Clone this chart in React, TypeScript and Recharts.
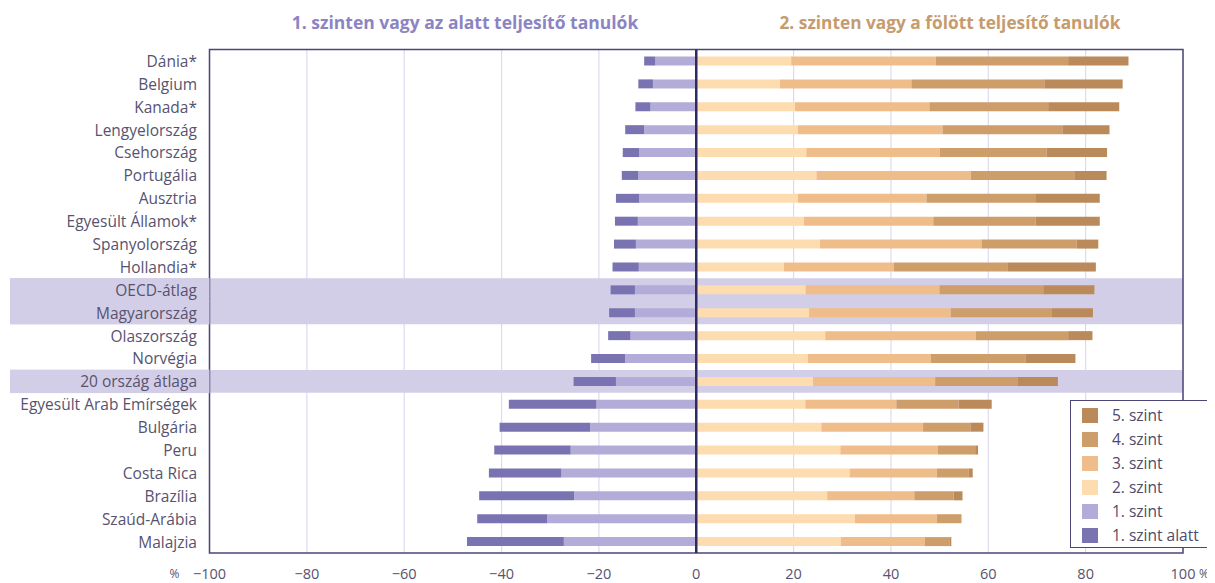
import React from 'react';
import {
  ComposedChart,
  Bar,
  XAxis,
  YAxis,
  CartesianGrid,
  ReferenceArea,
  ReferenceLine,
} from 'recharts';

const countries = [
  'Dánia*', 'Belgium', 'Kanada*', 'Lengyelország', 'Csehország', 'Portugália', 'Ausztria',
  'Egyesült Államok*', 'Spanyolország', 'Hollandia*', 'OECD-átlag', 'Magyarország',
  'Olaszország', 'Norvégia', '20 ország átlaga', 'Egyesült Arab Emírségek', 'Bulgária',
  'Peru', 'Costa Rica', 'Brazília', 'Szaúd-Arábia', 'Malajzia',
];

// negative side (percent of students, drawn to the left)
const level1 = [-8.4, -8.9, -9.4, -10.7, -11.7, -11.9, -11.7, -12.0, -12.4, -11.8, -12.6, -12.6, -13.5, -14.6, -16.5, -20.5, -21.8, -25.8, -27.7, -25.1, -30.6, -27.2];
const belowLevel1 = [-2.3, -3.0, -3.1, -3.9, -3.4, -3.4, -4.8, -4.7, -4.5, -5.4, -5.0, -5.3, -4.6, -7.0, -8.7, -18.0, -18.6, -15.7, -14.9, -19.5, -14.4, -19.9];
// positive side
const level2 = [19.5, 17.2, 20.3, 20.9, 22.6, 24.7, 20.9, 22.1, 25.4, 18.0, 22.5, 23.2, 26.5, 22.9, 24.0, 22.4, 25.7, 29.6, 31.5, 26.9, 32.6, 29.7];
const level3 = [29.7, 27.0, 27.6, 29.7, 27.4, 31.7, 26.4, 26.6, 33.2, 22.6, 27.5, 29.1, 30.9, 25.3, 25.1, 18.7, 20.9, 20.0, 17.9, 17.9, 16.8, 17.3];
const level4 = [27.2, 27.3, 24.4, 24.6, 22.0, 21.4, 22.5, 21.0, 19.5, 23.3, 21.3, 20.7, 19.0, 19.4, 17.0, 12.8, 9.7, 7.7, 6.6, 8.1, 5.1, 5.1];
const level5 = [12.4, 16.1, 14.6, 9.7, 12.4, 6.5, 13.1, 13.2, 4.5, 18.2, 10.5, 8.5, 5.0, 10.3, 8.2, 6.8, 2.7, 0.6, 0.8, 1.8, 0.0, 0.3];

const xTicks = [-100, -80, -60, -40, -20, 0, 20, 40, 60, 80, 100];
const highlighted = ['OECD-átlag', 'Magyarország', '20 ország átlaga'];

const leftTitle = '1. szinten vagy az alatt teljesítő tanulók';
const rightTitle = '2. szinten vagy a fölött teljesítő tanulók';

const series = [
  { key: 'level1', name: '1. szint', color: '#b3acd8', values: level1 },
  { key: 'below1', name: '1. szint alatt', color: '#7a73b2', values: belowLevel1 },
  { key: 'level2', name: '2. szint', color: '#fddcb0', values: level2 },
  { key: 'level3', name: '3. szint', color: '#efbd89', values: level3 },
  { key: 'level4', name: '4. szint', color: '#cd9d6a', values: level4 },
  { key: 'level5', name: '5. szint', color: '#ba8a5a', values: level5 },
];
const legendOrder = ['level5', 'level4', 'level3', 'level2', 'level1', 'below1'];

const data = countries.map((c, i) => {
  const row: Record<string, any> = { country: c };
  series.forEach((s) => {
    row[s.key] = s.values[i];
  });
  return row;
});

const FONT = '"Open Sans", "Noto Sans", sans-serif';
const TEXT = '#57536f';
const FRAME = '#4a4778';
const HL = '#d3cee7';

const CHART_W = 1200;
const CHART_H = 575;
const MARGIN = { top: 41.5, right: 25, bottom: 0, left: 0 };
const Y_W = 201.5;
const X_H = 30;
const BAND = (CHART_H - MARGIN.top - X_H) / countries.length;

const YTick = (props: any) => {
  const { y, payload } = props;
  const hl = highlighted.includes(payload.value);
  return (
    <g>
      {hl && <rect x={2} y={y - BAND / 2 - 0.3} width={Y_W - 2} height={BAND + 0.6} fill={HL} />}
      <text x={189} y={y} textAnchor="end" dominantBaseline="central" fontSize={15.5} fill={TEXT} fontFamily={FONT}>
        {payload.value}
      </text>
    </g>
  );
};

const XTick = (props: any) => {
  const { x, y, payload } = props;
  const v = payload.value as number;
  const label = v < 0 ? '\u2212' + Math.abs(v) : String(v);
  return (
    <g fontFamily={FONT} fontSize={14.5} fill={TEXT}>
      <text x={x} y={y + 12} textAnchor="middle" dominantBaseline="central">{label}</text>
      {v === -100 && (
        <text x={x - 35} y={y + 12} textAnchor="middle" dominantBaseline="central" fontSize={12}>%</text>
      )}
      {v === 100 && (
        <text x={x + 16} y={y + 12} textAnchor="start" dominantBaseline="central" fontSize={12}>%</text>
      )}
    </g>
  );
};

export default function App() {
  return (
    <div style={{ position: 'relative', width: CHART_W, height: CHART_H, fontFamily: FONT }}>
      <div
        style={{
          position: 'absolute', left: 457, top: 14, transform: 'translate(-50%, -50%)',
          whiteSpace: 'nowrap', fontWeight: 700, fontSize: 17.5, color: '#8c84c2',
        }}
      >
        {leftTitle}
      </div>
      <div
        style={{
          position: 'absolute', left: 942, top: 14, transform: 'translate(-50%, -50%)',
          whiteSpace: 'nowrap', fontWeight: 700, fontSize: 17.3, color: '#c69b6d',
        }}
      >
        {rightTitle}
      </div>
      <ComposedChart
        width={CHART_W}
        height={CHART_H}
        data={data}
        layout="vertical"
        stackOffset="sign"
        margin={MARGIN}
        barCategoryGap={0}
      >
        <CartesianGrid horizontal={false} vertical stroke="#dddaef" strokeWidth={1.2} />
        <XAxis
          type="number"
          domain={[-100, 100]}
          ticks={xTicks}
          height={X_H}
          axisLine={false}
          tickLine={false}
          tick={<XTick />}
          interval={0}
        />
        <YAxis
          type="category"
          dataKey="country"
          width={Y_W}
          axisLine={false}
          tickLine={false}
          tick={<YTick />}
          interval={0}
        />
        <ReferenceArea y1="OECD-átlag" y2="Magyarország" fill={HL} fillOpacity={1} stroke="none" />
        <ReferenceArea y1="20 ország átlaga" y2="20 ország átlaga" fill={HL} fillOpacity={1} stroke="none" />
        {series.map((s) => (
          <Bar
            key={s.key}
            dataKey={s.key}
            name={s.name}
            stackId="a"
            fill={s.color}
            barSize={9}
            isAnimationActive={false}
          />
        ))}
        <ReferenceLine x={0} stroke="#2c2a5e" strokeWidth={2.5} />
        <ReferenceArea
          x1={-100}
          x2={100}
          y1={countries[0]}
          y2={countries[countries.length - 1]}
          fill="none"
          stroke={FRAME}
          strokeWidth={1.5}
        />
      </ComposedChart>
      <div
        style={{
          position: 'absolute', left: 1062, top: 392, width: 143, height: 148,
          boxSizing: 'border-box', border: `1.5px solid ${FRAME}`, background: '#fff',
          paddingTop: 2,
        }}
      >
        {legendOrder.map((k) => {
          const s = series.find((q) => q.key === k)!;
          return (
            <div key={k} style={{ display: 'flex', alignItems: 'center', height: 24 }}>
              <div style={{ width: 16, height: 15, background: s.color, marginLeft: 11 }} />
              <div style={{ marginLeft: 14, fontSize: 15.5, color: '#4d4a6b', whiteSpace: 'nowrap' }}>{s.name}</div>
            </div>
          );
        })}
      </div>
    </div>
  );
}
